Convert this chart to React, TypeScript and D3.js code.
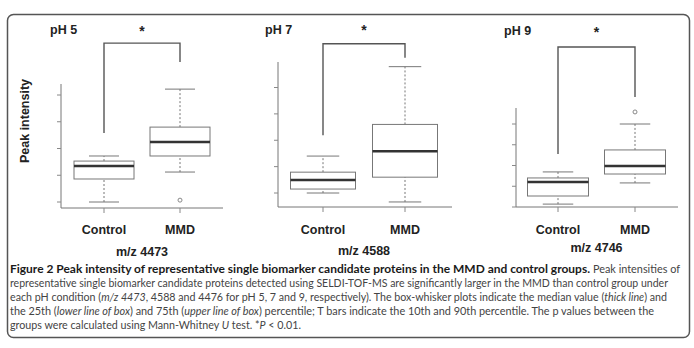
import React from "react";
import * as d3 from "d3";

const panelTitles = ["pH 5", "pH 7", "pH 9"];
const mzLabels = ["m/z 4473", "m/z 4588", "m/z 4746"];
const groups = ["Control", "MMD"];
const tickValues = [0, 1, 2, 3, 4];
// [low whisker, q1, median, q3, high whisker]
const controlStats = [
  [0.0, 0.86, 1.35, 1.53, 1.72],
  [0.0, 0.15, 0.49, 0.79, 1.4],
  [0.14, 0.53, 1.2, 1.4, 1.69],
];
const mmdStats = [
  [1.12, 1.72, 2.24, 2.8, 4.22],
  [-0.34, 0.6, 1.58, 2.6, 4.79],
  [1.16, 1.59, 1.98, 2.75, 4.0],
];
const controlOutliers = [[], [], []];
const mmdOutliers = [[0.07], [], [4.58]];
const bracketTop = [5.94, 5.66, 7.71];
const bracketLeftEnd = [2.58, 2.19, 2.55];
const bracketRightEnd = [5.23, 5.13, 5.3];
const significance = ["*", "*", "*"];

// layout (pixels)
const layouts = [
  { axisX: 61, right: 223, y0: 202, y4: 95, top: 84, base: 208, c1: 104, c2: 180, bw: 60, titleX: 50, titleY: 34, starY: 36, mzY: 256 },
  { axisX: 278, right: 452, y0: 193, y4: 87.5, top: 62, base: 207, c1: 323, c2: 405, bw: 65, titleX: 265, titleY: 34, starY: 35, mzY: 255 },
  { axisX: 516, right: 678, y0: 207, y4: 124, top: 108, base: 207, c1: 558, c2: 635, bw: 61, titleX: 504, titleY: 35, starY: 37, mzY: 252 },
];

const plotFont = "'Liberation Sans', Arial, sans-serif";
const capFont = "Lato, 'Open Sans', sans-serif";

function Panel({ i }: { i: number }) {
  const L = layouts[i];
  const y = d3.scaleLinear().domain([0, 4]).range([L.y0, L.y4]);
  const x = d3.scalePoint<string>().domain(groups).range([L.c1, L.c2]);
  const stats = [controlStats[i], mmdStats[i]];
  const outs = [controlOutliers[i], mmdOutliers[i]];
  const bx1 = x(groups[0])!;
  const bx2 = x(groups[1])!;
  const mid = (bx1 + bx2) / 2;
  return (
    <g>
      <text x={L.titleX} y={L.titleY} fontFamily={plotFont} fontWeight="bold" fontSize={12.5} fill="#222">
        {panelTitles[i]}
      </text>
      <text x={mid} y={L.starY} textAnchor="middle" fontFamily={plotFont} fontWeight="bold" fontSize={14} fill="#222">
        {significance[i]}
      </text>
      <path
        d={`M${bx1},${y(bracketLeftEnd[i])}V${y(bracketTop[i])}H${bx2}V${y(bracketRightEnd[i])}`}
        fill="none"
        stroke="#555"
        strokeWidth={1.4}
      />
      <line x1={L.axisX} x2={L.axisX} y1={L.top} y2={L.base} stroke="#777" strokeWidth={1} />
      <line x1={L.axisX} x2={L.right} y1={L.base} y2={L.base} stroke="#777" strokeWidth={1} />
      {tickValues.map((t) => (
        <line key={t} x1={L.axisX - 4} x2={L.axisX} y1={y(t)} y2={y(t)} stroke="#888" strokeWidth={1} />
      ))}
      {groups.map((g) => (
        <line key={g} x1={x(g)} x2={x(g)} y1={L.base} y2={L.base + 5} stroke="#888" strokeWidth={1} />
      ))}
      {groups.map((g, k) => {
        const s = stats[k];
        const cx = x(g)!;
        const hw = L.bw / 2;
        const cw = L.bw / 4;
        return (
          <g key={g}>
            <line x1={cx} x2={cx} y1={y(s[0])} y2={y(s[1])} stroke="#777" strokeDasharray="2,2" />
            <line x1={cx} x2={cx} y1={y(s[3])} y2={y(s[4])} stroke="#777" strokeDasharray="2,2" />
            <line x1={cx - cw} x2={cx + cw} y1={y(s[0])} y2={y(s[0])} stroke="#777" />
            <line x1={cx - cw} x2={cx + cw} y1={y(s[4])} y2={y(s[4])} stroke="#777" />
            <rect x={cx - hw} y={y(s[3])} width={L.bw} height={y(s[1]) - y(s[3])} fill="#fff" stroke="#777" strokeWidth={1} />
            <line x1={cx - hw} x2={cx + hw} y1={y(s[2])} y2={y(s[2])} stroke="#333" strokeWidth={2.5} />
            {outs[k].map((o, j) => (
              <circle key={j} cx={cx} cy={y(o)} r={2} fill="none" stroke="#888" strokeWidth={1} />
            ))}
            <text x={cx} y={234} textAnchor="middle" fontFamily={plotFont} fontWeight="bold" fontSize={12.5} fill="#222">
              {g}
            </text>
          </g>
        );
      })}
      <text x={mid} y={L.mzY} textAnchor="middle" fontFamily={plotFont} fontWeight="bold" fontSize={12.5} fill="#222">
        {mzLabels[i]}
      </text>
    </g>
  );
}

export default function App() {
  const capY = [273, 287, 301, 315, 329];
  const normal = "#444";
  const adj = "spacingAndGlyphs";
  return (
    <svg width={694} height={348} style={{ position: "absolute", left: 0, top: 0, background: "#fff" }}>
      <rect x={0} y={0} width={694} height={348} fill="#fff" />
      <rect x={7.5} y={14.5} width={682} height={323} rx={6} ry={6} fill="none" stroke="#555" strokeWidth={1.5} />
      <text
        transform="translate(29,121) rotate(-90)"
        textAnchor="middle"
        fontFamily={plotFont}
        fontWeight="bold"
        fontSize={12.5}
        fill="#222"
      >
        Peak intensity
      </text>
      {[0, 1, 2].map((i) => (
        <Panel key={i} i={i} />
      ))}
      <g fontFamily={capFont} fontSize={11}>
        <text x={10} y={capY[0]} fontWeight="bold" fill="#1a1a1a" textLength={580} lengthAdjust={adj}>
          Figure 2 Peak intensity of representative single biomarker candidate proteins in the MMD and control groups.
        </text>
        <text x={593} y={capY[0]} fill={normal} textLength={87} lengthAdjust={adj}>
          Peak intensities of
        </text>
        <text x={10} y={capY[1]} fill={normal} textLength={658} lengthAdjust={adj}>
          representative single biomarker candidate proteins detected using SELDI-TOF-MS are significantly larger in the MMD than control group under
        </text>
        <text x={10} y={capY[2]} fill={normal} textLength={657} lengthAdjust={adj}>
          each pH condition (<tspan fontStyle="italic">m/z 4473</tspan>, 4588 and 4476 for pH 5, 7 and 9, respectively). The box-whisker plots indicate the median value (<tspan fontStyle="italic">thick line</tspan>) and
        </text>
        <text x={10} y={capY[3]} fill={normal} textLength={644} lengthAdjust={adj}>
          the 25th (<tspan fontStyle="italic">lower line of box</tspan>) and 75th (<tspan fontStyle="italic">upper line of box</tspan>) percentile; T bars indicate the 10th and 90th percentile. The p values between the
        </text>
        <text x={10} y={capY[4]} fill={normal} textLength={291} lengthAdjust={adj}>
          groups were calculated using Mann-Whitney <tspan fontStyle="italic">U</tspan> test. *<tspan fontStyle="italic">P</tspan> &lt; 0.01.
        </text>
      </g>
    </svg>
  );
}
